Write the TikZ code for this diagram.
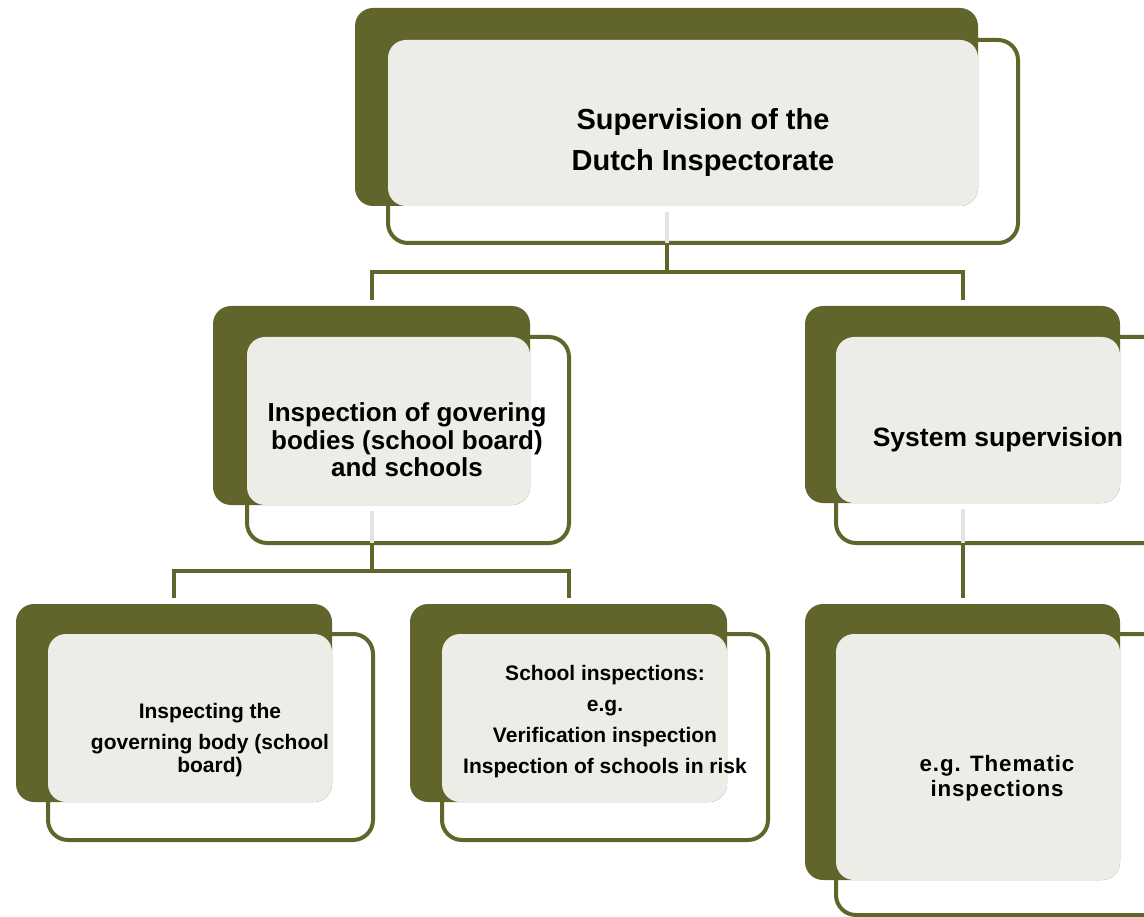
\documentclass[tikz,border=0pt]{standalone}
\usepackage{fontspec}
\setmainfont{Liberation Sans}
\newfontfamily\widefont[LetterSpace=4]{Liberation Sans}
\definecolor{oliv}{HTML}{61652B}
\definecolor{pale}{HTML}{EDEDE7}
\definecolor{ghost}{HTML}{E4E4DE}
\tikzset{
  backbox/.style={fill=oliv, rounded corners=18pt},
  frontbox/.style={draw=oliv, line width=4pt, fill=white, rounded corners=20pt},
  palebox/.style={fill=pale, rounded corners=18pt},
  link/.style={draw=oliv, line width=4pt},
  ghostlink/.style={draw=ghost, line width=4pt},
  bigtext/.style={font=\bfseries\fontsize{29}{41}\selectfont, align=center, inner sep=0pt},
  midtext/.style={font=\bfseries\fontsize{26}{27.5}\selectfont, align=center, inner sep=0pt},
  sidetext/.style={font=\bfseries\fontsize{26.5}{30}\selectfont, align=center, inner sep=0pt},
  widetext/.style={font=\widefont\bfseries\fontsize{22.3}{25}\selectfont, align=center, inner sep=0pt},
  smalltext/.style={font=\bfseries\fontsize{21}{23}\selectfont, align=center, inner sep=0pt},
  listtext/.style={font=\bfseries\fontsize{21}{31}\selectfont, align=center, inner sep=0pt},
}
\newcommand\mkblock[9]{%
  \path[frontbox] (#6,#7) rectangle (#8,#9);
  \path[backbox] (#2,#3) rectangle (#4,#5);
  \path[palebox] (#6,#7) rectangle (#4,#5);
  \coordinate (#1-in) at ({(#2+#4)/2},#3-6);
  \coordinate (#1-c) at ({(#2+#4)/2},#5+6);
  \coordinate (#1-out) at ({(#2+#4)/2},#9);
}
\begin{document}
\begin{tikzpicture}[x=1pt,y=-1pt]
\useasboundingbox (0,0) rectangle (1144,917);
\clip (0,0) rectangle (1144,917);
\fill[white] (0,0) rectangle (1144,917);
% blocks
\mkblock{top}{355}{8}{978}{206}{388}{40}{1018}{243}
\mkblock{ml}{213}{306}{530}{505}{247}{337}{569}{543}
\mkblock{mr}{805}{306}{1120}{503}{836}{337}{1165}{543}
\mkblock{bl}{16}{604}{332}{802}{48}{634}{373}{840}
\mkblock{bm}{410}{604}{727}{802}{442}{634}{768}{840}
\mkblock{br}{805}{604}{1120}{880}{836}{634}{1165}{915}
% connectors
\draw[ghostlink] (top-c) -- (top-out);
\draw[link] (top-out) -- ++(0,29) -| (ml-in);
\draw[link] (top-out) -- ++(0,29) -| (mr-in);
\draw[ghostlink] (ml-c) -- (ml-out);
\draw[link] (ml-out) -- ++(0,28) -| (bl-in);
\draw[link] (ml-out) -- ++(0,28) -| (bm-in);
\draw[ghostlink] (mr-c) -- (mr-out);
\draw[link] (mr-out) -- (br-in);
% texts
\node[bigtext] (t0) at (703,143) {Supervision of the\\Dutch Inspectorate};
\node[midtext] (t1) at (407,440) {Inspection of govering\\bodies (school board)\\and schools};
\node[sidetext] (t2) at (998,440) {System supervision};
\node[smalltext] (t3) at (210,740) {Inspecting the\\[8pt]governing body (school\\board)};
\node[listtext] (t4) at (605,722) {School inspections:\\e.g.\\Verification inspection\\Inspection of schools in risk};
\node[widetext] (t5) at (997,778) {e.g. Thematic\\inspections};
\end{tikzpicture}
\end{document}
